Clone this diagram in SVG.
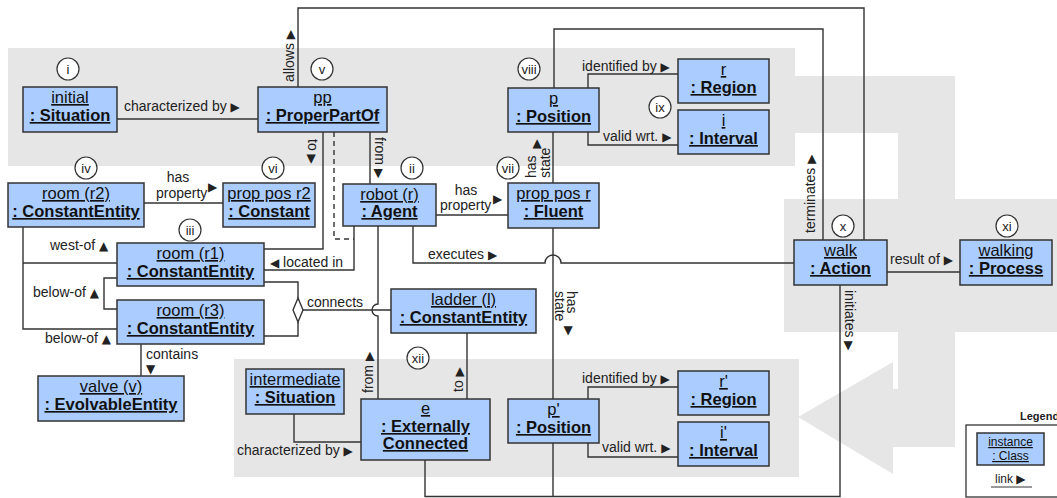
<svg xmlns="http://www.w3.org/2000/svg" width="1057" height="498" viewBox="0 0 1057 498">
<style>
.bg{fill:#e6e6e6}
.node rect{fill:#aaccff;stroke:#333;stroke-width:1.5}
.node text{font-family:"Liberation Sans",Arial,sans-serif;font-size:16.5px;text-anchor:middle;text-decoration:underline;fill:#111}
.node .b{font-weight:bold}
.conn path{fill:none;stroke:#333;stroke-width:1.4}
.conn .dash{stroke-dasharray:5,4}
.conn .dia{fill:#fff}
.lbl{font-family:"Liberation Sans",Arial,"DejaVu Sans",sans-serif;font-size:14px;fill:#222}
.mid{text-anchor:middle}
.tri{font-family:"DejaVu Sans",sans-serif;font-size:12px}
.tag circle{fill:#fff;stroke:#333;stroke-width:1.2}
.tag text{font-family:"Liberation Sans",Arial,sans-serif;font-size:13px;text-anchor:middle;fill:#222}
.leg{font-family:"Liberation Sans",Arial,sans-serif;font-size:12px;fill:#222}
</style>

<g id="background">
<rect class="bg" x="8" y="48" width="787" height="118"/>
<rect class="bg" x="795" y="76" width="160" height="57"/>
<rect class="bg" x="898" y="133" width="57" height="66"/>
<rect class="bg" x="784" y="199" width="280" height="133"/>
<rect class="bg" x="898" y="332" width="57" height="57"/>
<rect class="bg" x="892" y="389" width="63" height="58"/>
<polygon class="bg" points="798,417 893,362 893,474"/>
<rect class="bg" x="234" y="359" width="565" height="118"/>
</g>

<g id="connectors" class="conn">
<path d="M117,119 H258"/>
<path d="M298,87 V8 H864 V240"/>
<path d="M554,88 V29 H823 V240"/>
<path d="M323,132 V249 H264"/>
<path class="dash" d="M334,132 V239 H354"/>
<path d="M370,132 V184"/>
<path d="M144,203 H223"/>
<path d="M23,227 V329 H117"/>
<path d="M23,263 H117"/>
<path d="M117,278 H104 V309 H117"/>
<path d="M354,226 V270 H264"/>
<path d="M264,282 H298 V298"/>
<path d="M264,336 H298 V322"/>
<path class="dia" d="M298,298 L303,310 L298,322 L293,310 Z"/>
<path d="M303,310 H391"/>
<path d="M378,226 V304 A6,6 0 0 0 378,316 V399"/>
<path d="M413,226 V263 H545 A8,8 0 0 1 561,263 H794"/>
<path d="M436,215 H508"/>
<path d="M553,132 V183"/>
<path d="M553,228 V399"/>
<path d="M588,88 V74 H678"/>
<path d="M588,132 V145 H678"/>
<path d="M887,272 H960"/>
<path d="M425,460 V496.5 H840 V285"/>
<path d="M553,443 V496.5"/>
<path d="M588,399 V387 H678"/>
<path d="M588,443 V457 H678"/>
<path d="M467,399 V333"/>
<path d="M294,414 V442 H361"/>
<path d="M141,344 V376"/>
</g>

<g id="labels">
<text class="lbl" x="124" y="111">characterized by <tspan class="tri">▶</tspan></text>
<text class="lbl mid" x="178" y="182">has</text>
<text class="lbl" x="156" y="198">property</text>
<text class="lbl tri" x="208" y="191">▶</text>
<text class="lbl" transform="translate(294,82) rotate(-90)">allows <tspan class="tri">▶</tspan></text>
<text class="lbl" transform="translate(308,139) rotate(90)">to <tspan class="tri">▶</tspan></text>
<text class="lbl" transform="translate(375,137) rotate(90)">from <tspan class="tri">▶</tspan></text>
<text class="lbl mid" x="466" y="195">has</text>
<text class="lbl" x="440" y="210">property</text>
<text class="lbl tri" x="493" y="203">▶</text>
<text class="lbl" transform="translate(536,178) rotate(-90)">has</text>
<text class="lbl" transform="translate(550,178) rotate(-90)">state</text>
<text class="lbl tri mid" x="537" y="147">▲</text>
<text class="lbl" x="582" y="71">identified by <tspan class="tri">▶</tspan></text>
<text class="lbl" x="603" y="141">valid wrt. <tspan class="tri">▶</tspan></text>
<text class="lbl" transform="translate(815,233) rotate(-90)">terminates <tspan class="tri">▶</tspan></text>
<text class="lbl" x="890" y="264">result of <tspan class="tri">▶</tspan></text>
<text class="lbl" transform="translate(845,290) rotate(90)">initiates <tspan class="tri">▶</tspan></text>
<text class="lbl" x="428" y="259">executes <tspan class="tri">▶</tspan></text>
<text class="lbl" x="270" y="267"><tspan class="tri">◀</tspan> located in</text>
<text class="lbl" x="50" y="250">west-of <tspan class="tri">▲</tspan></text>
<text class="lbl" x="33" y="297">below-of <tspan class="tri">▲</tspan></text>
<text class="lbl" x="45" y="343">below-of <tspan class="tri">▲</tspan></text>
<text class="lbl" x="307" y="307">connects</text>
<text class="lbl" x="146" y="359">contains</text>
<text class="lbl tri" x="146" y="373">▼</text>
<text class="lbl" transform="translate(567,291) rotate(90)">has</text>
<text class="lbl" transform="translate(555,291) rotate(90)">state</text>
<text class="lbl tri mid" x="568" y="334">▼</text>
<text class="lbl" transform="translate(373,393) rotate(-90)">from <tspan class="tri">▶</tspan></text>
<text class="lbl" transform="translate(463,392) rotate(-90)">to <tspan class="tri">▶</tspan></text>
<text class="lbl" x="237" y="455">characterized by <tspan class="tri">▶</tspan></text>
<text class="lbl" x="582" y="383">identified by <tspan class="tri">▶</tspan></text>
<text class="lbl" x="602" y="452">valid wrt. <tspan class="tri">▶</tspan></text>
</g>

<g id="n-initial" class="node"><rect x="23" y="87" width="94" height="45"/><text x="70" y="103">initial</text><text class="b" x="70" y="121">: Situation</text></g>
<g id="n-pp" class="node"><rect x="258" y="87" width="129" height="45"/><text x="322.5" y="103">pp</text><text class="b" x="322.5" y="121">: ProperPartOf</text></g>
<g id="n-r2" class="node"><rect x="8" y="183" width="136" height="44"/><text x="76" y="199">room (r2)</text><text class="b" x="76" y="217">: ConstantEntity</text></g>
<g id="n-propposr2" class="node"><rect x="223" y="183" width="92" height="44"/><text x="269" y="199">prop pos r2</text><text class="b" x="269" y="217">: Constant</text></g>
<g id="n-robot" class="node"><rect x="343" y="184" width="93" height="42"/><text x="389.5" y="200">robot (r)</text><text class="b" x="389.5" y="217">: Agent</text></g>
<g id="n-r1" class="node"><rect x="117" y="243" width="147" height="43"/><text x="190.5" y="259">room (r1)</text><text class="b" x="190.5" y="277">: ConstantEntity</text></g>
<g id="n-r3" class="node"><rect x="117" y="300" width="147" height="44"/><text x="190.5" y="316">room (r3)</text><text class="b" x="190.5" y="334">: ConstantEntity</text></g>
<g id="n-valve" class="node"><rect x="38" y="376" width="146" height="45"/><text x="111" y="392">valve (v)</text><text class="b" x="111" y="410">: EvolvableEntity</text></g>
<g id="n-ladder" class="node"><rect x="391" y="289" width="145" height="44"/><text x="463.5" y="305">ladder (l)</text><text class="b" x="463.5" y="323">: ConstantEntity</text></g>
<g id="n-intermediate" class="node"><rect x="246" y="369" width="98" height="45"/><text x="295" y="385">intermediate</text><text class="b" x="295" y="403">: Situation</text></g>
<g id="n-e" class="node"><rect x="361" y="399" width="129" height="61"/><text x="425.5" y="414">e</text><text class="b" x="425.5" y="432">: Externally</text><text class="b" x="425.5" y="449">Connected</text></g>
<g id="n-p" class="node"><rect x="508" y="88" width="91" height="44"/><text x="553.5" y="104">p</text><text class="b" x="553.5" y="122">: Position</text></g>
<g id="n-r" class="node"><rect x="678" y="59" width="91" height="44"/><text x="723.5" y="75">r</text><text class="b" x="723.5" y="93">: Region</text></g>
<g id="n-i" class="node"><rect x="678" y="110" width="91" height="44"/><text x="723.5" y="126">i</text><text class="b" x="723.5" y="144">: Interval</text></g>
<g id="n-propposr" class="node"><rect x="508" y="183" width="91" height="45"/><text x="553.5" y="199">prop pos r</text><text class="b" x="553.5" y="217">: Fluent</text></g>
<g id="n-walk" class="node"><rect x="794" y="240" width="93" height="45"/><text x="840.5" y="256">walk</text><text class="b" x="840.5" y="274">: Action</text></g>
<g id="n-walking" class="node"><rect x="960" y="240" width="92" height="45"/><text x="1006" y="256">walking</text><text class="b" x="1006" y="274">: Process</text></g>
<g id="n-pprime" class="node"><rect x="508" y="399" width="91" height="44"/><text x="553.5" y="415">p'</text><text class="b" x="553.5" y="433">: Position</text></g>
<g id="n-rprime" class="node"><rect x="678" y="371" width="91" height="44"/><text x="723.5" y="387">r'</text><text class="b" x="723.5" y="405">: Region</text></g>
<g id="n-iprime" class="node"><rect x="678" y="422" width="91" height="44"/><text x="723.5" y="438">i'</text><text class="b" x="723.5" y="456">: Interval</text></g>

<g id="tags" class="tag">
<circle cx="68" cy="69" r="11"/><text x="68" y="74">i</text>
<circle cx="322" cy="69" r="11"/><text x="322" y="74">v</text>
<circle cx="86" cy="168" r="11"/><text x="86" y="173">iv</text>
<circle cx="273" cy="168" r="11"/><text x="273" y="173">vi</text>
<circle cx="412" cy="168" r="11"/><text x="412" y="173">ii</text>
<circle cx="190" cy="230" r="11"/><text x="190" y="235">iii</text>
<circle cx="529" cy="69" r="11"/><text x="529" y="74">viii</text>
<circle cx="660" cy="107" r="11"/><text x="660" y="112">ix</text>
<circle cx="508" cy="168" r="11"/><text x="508" y="173">vii</text>
<circle cx="843" cy="226" r="11"/><text x="843" y="231">x</text>
<circle cx="1007" cy="226" r="11"/><text x="1007" y="231">xi</text>
<circle cx="418" cy="358" r="11"/><text x="418" y="363">xii</text>
</g>

<g id="legend">
<text class="leg" x="1020" y="420" style="font-weight:bold;font-size:11px">Legend</text>
<rect x="966" y="425" width="100" height="72" fill="#fff" stroke="#333" stroke-width="1.3"/>
<g class="node"><rect x="977" y="433" width="67" height="32"/>
<text x="1010.5" y="446" style="font-size:12px">instance</text>
<text x="1010.5" y="460" style="font-size:12px">: Class</text></g>
<text class="leg" x="995" y="483">link <tspan class="tri">▶</tspan></text>
<path d="M991,487 H1032" stroke="#333" stroke-width="1"/>
</g>
</svg>
